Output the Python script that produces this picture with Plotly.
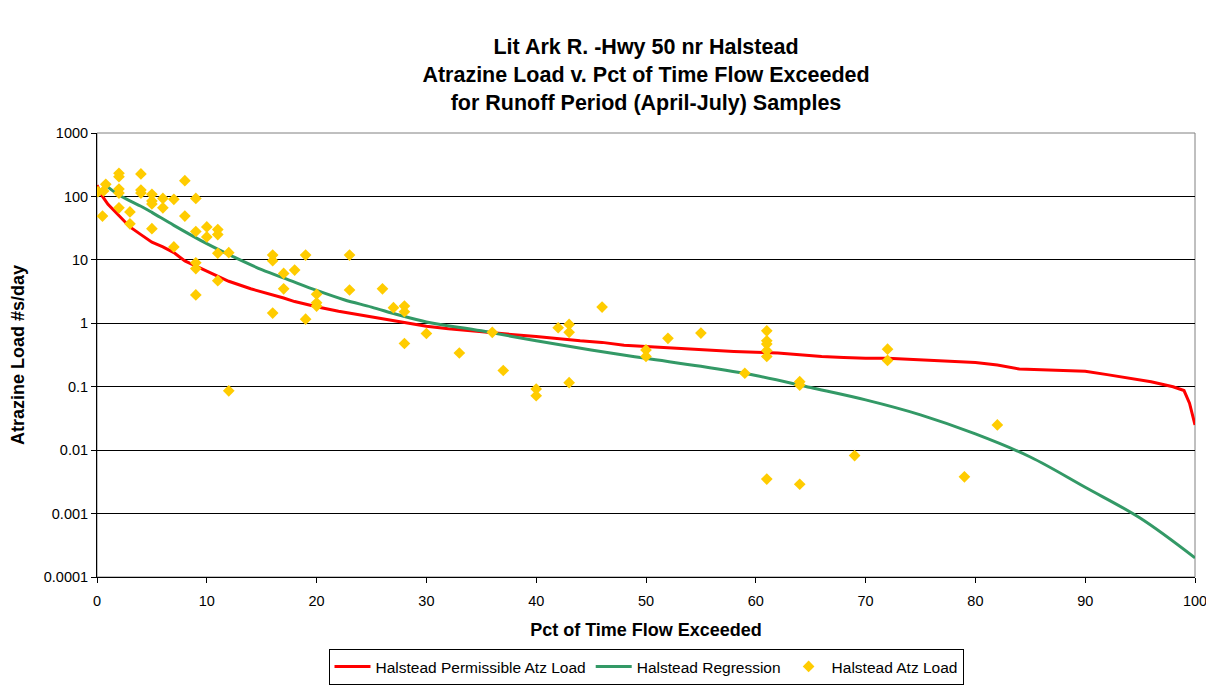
import plotly.graph_objects as go

# Permissible load curve (red)
permit_pct = [0, 0.5, 1, 2, 3, 4, 5, 6, 7, 8, 9, 10, 12, 14, 16, 17, 18, 20, 22, 24, 26, 28,
              30, 32, 34, 36, 38, 40, 42, 44, 46, 48, 50, 52, 54, 56, 58, 60, 62, 64, 66, 68,
              70, 72, 74, 76, 78, 80, 82, 84, 86, 88, 90, 92, 94, 96, 98, 99, 99.5, 100]
permit_load = [150, 100, 75, 50, 33, 25, 19, 16, 13, 9.6, 8, 6.5, 4.6, 3.5, 2.85, 2.5, 2.2,
               1.82, 1.55, 1.35, 1.18, 1.02, 0.9, 0.82, 0.76, 0.70, 0.66, 0.62, 0.57, 0.53,
               0.5, 0.45, 0.43, 0.41, 0.39, 0.37, 0.36, 0.35, 0.34, 0.32, 0.30, 0.29, 0.28,
               0.28, 0.27, 0.26, 0.25, 0.24, 0.22, 0.19, 0.185, 0.178, 0.175, 0.155, 0.135,
               0.12, 0.1, 0.087, 0.055, 0.025]

# Regression curve (green)
regr_pct = [1, 2, 3, 4, 5, 7, 10, 12.5, 15, 17.5, 20, 22.5, 25, 27.5, 30, 35, 40, 45, 50,
            55, 60, 65, 70, 75, 80, 85, 90, 95, 100]
regr_load = [140, 105, 85, 70, 56, 35, 18, 11, 7, 4.8, 3.3, 2.35, 1.8, 1.35, 1.05, 0.76,
             0.53, 0.38, 0.28, 0.21, 0.15, 0.097, 0.062, 0.036, 0.018, 0.0078, 0.0026,
             0.00085, 0.0002]

# Sampled loads (yellow diamonds)
sample_pct = [0.1, 0.6, 0.8, 0.5,
              2, 2, 2, 2, 2, 3, 3, 4, 4, 4,
              5, 5, 5, 5, 6, 6, 7, 7, 8, 8,
              9, 9, 9, 9, 9, 10, 10, 11, 11, 11, 11, 12, 12,
              16, 16, 16, 17, 17, 18, 19, 19, 20, 20, 20,
              23, 23, 26, 27, 28, 28, 28, 30, 33, 36, 37, 40, 40,
              42, 43, 43, 43, 46, 50, 50, 52, 55, 59,
              61, 61, 61, 61, 61, 61, 64, 64, 64, 69, 72, 72, 79, 82]
sample_load = [119, 122, 155, 49,
               232, 205, 131, 113, 66, 57, 37, 226, 126, 113,
               108, 85, 76, 31, 93, 66, 90, 16, 177, 49,
               93, 28, 9.0, 7.3, 2.8, 33, 23, 30, 25, 12.7, 4.7, 13, 0.086,
               11.9, 9.7, 1.45, 6.1, 3.5, 6.9, 11.9, 1.16, 2.87, 2.1, 1.87,
               11.9, 3.35, 3.5, 1.76, 1.87, 1.52, 0.48, 0.69, 0.34, 0.72, 0.18, 0.092, 0.072,
               0.85, 0.96, 0.72, 0.116, 1.8, 0.38, 0.30, 0.58, 0.70, 0.163,
               0.76, 0.53, 0.47, 0.37, 0.30, 0.0035, 0.12, 0.106, 0.0029, 0.0082, 0.39, 0.26,
               0.0038, 0.025]

y_ticks = [1000, 100, 10, 1, 0.1, 0.01, 0.001, 0.0001]
y_tick_text = ["1000", "100", "10", "1", "0.1", "0.01", "0.001", "0.0001"]

font = "Arial, Liberation Sans, sans-serif"

fig = go.Figure()
fig.add_trace(go.Scatter(x=permit_pct, y=permit_load, mode="lines",
                         name="Halstead Permissible Atz Load",
                         line=dict(color="#FF0000", width=3)))
fig.add_trace(go.Scatter(x=regr_pct, y=regr_load, mode="lines",
                         name="Halstead Regression",
                         line=dict(color="#339966", width=3, shape="spline")))
fig.add_trace(go.Scatter(x=sample_pct, y=sample_load, mode="markers",
                         name="Halstead Atz Load",
                         marker=dict(symbol="diamond", color="#FFCC00", size=9)))

# page body has an 8px margin, so the figure sits 8px in from the window corner
fig.update_layout(
    width=1206, height=678,
    margin=dict(l=89, r=19, t=125, b=109, autoexpand=False),
    paper_bgcolor="white", plot_bgcolor="white",
    font=dict(family=font, size=14.5, color="black"),
    title=dict(text="<b>Lit Ark R. -Hwy 50 nr Halstead<br>Atrazine Load v. Pct of Time Flow Exceeded"
                    "<br>for Runoff Period (April-July) Samples</b>",
               x=0.5, xanchor="center", xref="paper", yref="container", y=1 - 46 / 678, yanchor="top",
               font=dict(size=21.5, family=font)),
    showlegend=True,
    legend=dict(orientation="h", x=0.5, xanchor="center", y=-0.243, yanchor="bottom",
                bordercolor="black", borderwidth=1, font=dict(size=15.5),
                traceorder="normal", itemwidth=36),
    xaxis=dict(range=[0, 100], dtick=10, showgrid=False, zeroline=False, automargin=False,
               showline=True, linecolor="black", linewidth=1, mirror=False,
               ticks="outside", ticklen=5, tickcolor="black", ticklabelstandoff=6,
               title=dict(text="<b>Pct of Time Flow Exceeded</b>", font=dict(size=18), standoff=14)),
    yaxis=dict(type="log", range=[-4, 3], tickvals=y_ticks, ticktext=y_tick_text,
               automargin=False,
               showgrid=True, gridcolor="black", gridwidth=1, zeroline=False,
               showline=True, linecolor="black", linewidth=1,
               ticks="outside", ticklen=5, tickcolor="black",
               title=dict(text="<b>Atrazine Load #s/day</b>", font=dict(size=18), standoff=14)),
)

# plot-area frame (top and right edges in gray)
fig.add_shape(type="rect", xref="paper", yref="paper", x0=0, y0=0, x1=1, y1=1,
              line=dict(color="#808080", width=1), layer="below")

fig.write_html("out.html")
